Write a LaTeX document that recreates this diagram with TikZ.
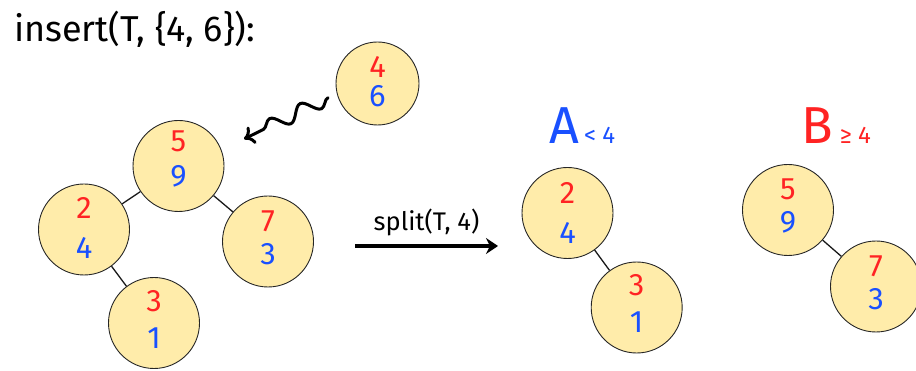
\documentclass[tikz,border=0pt]{standalone}
\usepackage{fontspec}
\setmainfont{Fira Sans}
\usetikzlibrary{arrows.meta,decorations.pathmorphing}
\definecolor{nodefill}{RGB}{255,236,170}
\definecolor{kred}{RGB}{255,35,35}
\definecolor{kblue}{RGB}{25,80,255}
\tikzset{
  vnode/.style={circle,draw=black!85,line width=0.9pt,fill=nodefill,inner sep=0pt,minimum size=91pt},
  smallnode/.style={vnode,minimum size=83pt},
  keytxt/.style={text=kred,font=\fontsize{31}{31}\selectfont,inner sep=0pt},
  prtxt/.style={text=kblue,font=\fontsize{31}{31}\selectfont,inner sep=0pt},
  edge/.style={draw=black!90,line width=1.3pt},
}
\begin{document}
\begin{tikzpicture}[x=1pt,y=-1pt]
\useasboundingbox (0,0) rectangle (916,371);
% title
\node[anchor=base west,inner sep=0pt,font=\fontsize{36}{36}\selectfont] (title) at (14,41.7) {insert(T, \{4, 6\}):};
% left tree
\node[vnode] (r) at (178.5,166) {};
\node[vnode] (a) at (84,229.5) {};
\node[vnode] (b) at (268,241.5) {};
\node[vnode] (c) at (154,323) {};
\node[smallnode] (n) at (377.5,83.5) {};
\draw[edge] (r) -- (a);
\draw[edge] (r) -- (b);
\draw[edge] (a) -- (c);
\node[keytxt] (rk) at ([yshift=24.3pt]r.center) {5};
\node[prtxt]  (rp) at ([yshift=-10pt]r.center) {9};
\node[keytxt] (ak) at ([yshift=21.5pt]a.center) {2};
\node[prtxt]  (ap) at ([yshift=-18.5pt]a.center) {4};
\node[keytxt] (bk) at ([yshift=20.5pt]b.center) {7};
\node[prtxt]  (bp) at ([yshift=-13pt]b.center) {3};
\node[keytxt] (ck) at ([yshift=22pt]c.center) {3};
\node[prtxt]  (cp) at ([yshift=-15pt]c.center) {1};
\node[keytxt] (nk) at ([yshift=16.5pt]n.center) {4};
\node[prtxt]  (np) at ([yshift=-12.5pt]n.center) {6};
% wavy arrow
\coordinate (ws) at (328,97.7);
\coordinate (we) at (244,139);
\draw[line width=3pt,line cap=round,-{Computer Modern Rightarrow[length=10pt,width=19pt,line width=3pt]},decorate,
  decoration={snake,amplitude=7pt,segment length=34pt,post length=10pt}] (ws) -- (we);
% split arrow
\coordinate (ss) at (355,246);
\coordinate (se) at (498,246);
\draw[line width=3.2pt,-{Stealth[length=12pt,width=16pt]}] (ss) -- (se);
\node[anchor=base,inner sep=0pt,font=\fontsize{25.5}{25.5}\selectfont] (sl) at (426.5,230.7) {split(T, 4)};
% tree A
\node[anchor=base west,inner sep=0pt,text=kblue] (la) at (549,143.3)
  {{\fontsize{52}{52}\selectfont A}\hspace{5pt}{\fontsize{24}{24}\selectfont < 4}};
\node[vnode] (a1) at (567.5,213) {};
\node[vnode] (a2) at (636.7,307.5) {};
\draw[edge] (a1) -- (a2);
\node[keytxt] (a1k) at ([yshift=20.5pt]a1.center) {2};
\node[prtxt]  (a1p) at ([yshift=-20pt]a1.center) {4};
\node[keytxt] (a2k) at ([yshift=22.5pt]a2.center) {3};
\node[prtxt]  (a2p) at ([yshift=-15pt]a2.center) {1};
% tree B
\node[anchor=base west,inner sep=0pt,text=kred] (lb) at (801,143.3)
  {{\fontsize{52}{52}\selectfont B}\hspace{7pt}{\fontsize{24}{24}\selectfont ≥ 4}};
\node[vnode] (b1) at (788,210) {};
\node[vnode] (b2) at (876,286.5) {};
\draw[edge] (b1) -- (b2);
\node[keytxt] (b1k) at ([yshift=21pt]b1.center) {5};
\node[prtxt]  (b1p) at ([yshift=-12.5pt]b1.center) {9};
\node[keytxt] (b2k) at ([yshift=20pt]b2.center) {7};
\node[prtxt]  (b2p) at ([yshift=-13pt]b2.center) {3};
\end{tikzpicture}
\end{document}
